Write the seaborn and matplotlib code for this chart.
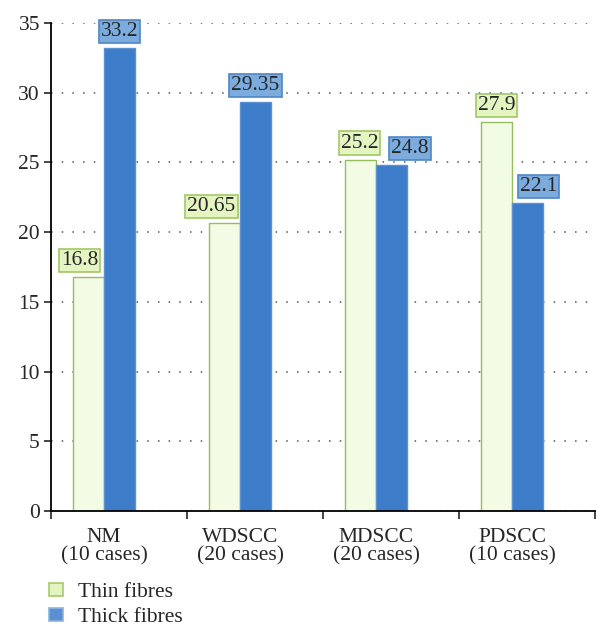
import matplotlib
matplotlib.use("Agg")
import matplotlib.pyplot as plt
import seaborn as sns
import pandas as pd
from matplotlib.patches import Patch, Rectangle

categories = ["NM\n(10 cases)", "WDSCC\n(20 cases)", "MDSCC\n(20 cases)", "PDSCC\n(10 cases)"]
series = ["Thin fibres", "Thick fibres"]
thin = [16.8, 20.65, 25.2, 27.9]
thick = [33.2, 29.35, 24.8, 22.1]
yticks = [0, 5, 10, 15, 20, 25, 30, 35]

# label horizontal nudges (pixels), style only
label_dx = {"Thin fibres": [-9, -13, -1, 0], "Thick fibres": [0, 0, 18, 11]}

df = pd.DataFrame({
    "cat": categories * 2,
    "series": [series[0]] * 4 + [series[1]] * 4,
    "value": thin + thick,
})

sns.set_style("white")
plt.rcParams["font.family"] = ["Liberation Serif", "DejaVu Serif"]
FS = 15.5

fig = plt.figure(figsize=(6.1, 6.35), dpi=100)
ax = fig.add_axes([51 / 610, 1 - 511 / 635, (595 - 51) / 610, (511 - 23) / 635])

bar_face = {"Thin fibres": "#f2fbe3", "Thick fibres": "#3c7cc8"}
bar_edge = {"Thin fibres": "#98bd60", "Thick fibres": "#5b91d2"}
box_face = {"Thin fibres": "#e4f5c2", "Thick fibres": "#7cacde"}
box_edge = {"Thin fibres": "#a2c865", "Thick fibres": "#4f86c6"}

sns.barplot(data=df, x="cat", y="value", hue="series", order=categories,
            hue_order=series, palette=bar_face, width=0.456, ax=ax,
            legend=False, saturation=1)

for cont, s in zip(ax.containers, series):
    for p, dx in zip(cont, label_dx[s]):
        p.set_edgecolor(bar_edge[s])
        p.set_linewidth(1.0)
        xc = p.get_x() + p.get_width() / 2
        h = p.get_height()
        ax.annotate(f"{h:g}", xy=(xc, h), xytext=(dx, 7), textcoords="offset pixels",
                    ha="center", va="bottom", fontsize=FS, zorder=5,
                    bbox=dict(boxstyle="square,pad=0.1", facecolor=box_face[s],
                              edgecolor=box_edge[s], linewidth=1.2))

ax.set_ylim(0, 35)
ax.set_xlim(-0.39, 3.61)
ax.set_yticks(yticks)
ax.set_xticks([0, 1, 2, 3])
ax.set_xticklabels(categories, fontsize=FS, linespacing=0.95)
ax.tick_params(axis="y", labelsize=FS, length=5, width=1.2, direction="out", left=True, pad=3)
ax.tick_params(axis="x", which="major", length=0, pad=12)
ax.set_xticks([-0.39, 0.61, 1.61, 2.61, 3.61], minor=True)
ax.tick_params(axis="x", which="minor", length=6, width=1.2, direction="out", bottom=True)

ax.yaxis.grid(True, linestyle=(0, (1, 6)), color="#555555", linewidth=1.1)
ax.set_axisbelow(True)
for side in ["top", "right"]:
    ax.spines[side].set_visible(False)
for side in ["left", "bottom"]:
    ax.spines[side].set_linewidth(1.3)
    ax.spines[side].set_color("black")
ax.set_xlabel("")
ax.set_ylabel("")

handles = [Patch(facecolor="#e2f3c0", edgecolor="#a5c96a", linewidth=1.2),
           Patch(facecolor="#5a8fd0", edgecolor="#8ab4e2", linewidth=1.2)]
fig.legend(handles, series, loc="upper left", bbox_to_anchor=(49 / 610, 1 - 583 / 635),
           frameon=False, fontsize=FS, handlelength=0.65, handleheight=0.55,
           handletextpad=0.7, labelspacing=0.29, borderpad=0, borderaxespad=0)

fig.add_artist(Rectangle((0, 0), 1, 13 / 635, transform=fig.transFigure,
                         facecolor="white", edgecolor="none", zorder=20))

fig.savefig("out.png", dpi=100)
